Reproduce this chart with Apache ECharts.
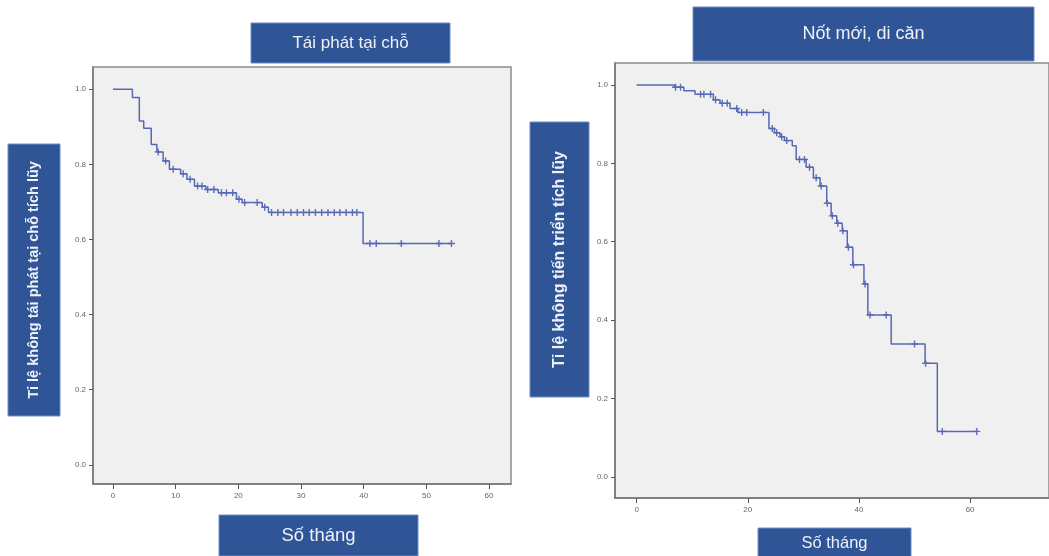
<!DOCTYPE html>
<html>
<head>
<meta charset="utf-8">
<script src="https://cdn.jsdelivr.net/npm/echarts@6/dist/echarts.min.js"></script>
<style>
html,body{margin:0;padding:0;background:#fff;}
#c{width:1049px;height:556px;}
</style>
</head>
<body>
<div id="c"></div>
<script>
// ---------- DATA ----------
const leftTitle = 'Tái phát tại chỗ';
const rightTitle = 'Nốt mới, di căn';
const leftYLabel = 'Tỉ lệ không tái phát tại chỗ tích lũy';
const rightYLabel = 'Tỉ lệ không tiến triển tích lũy';
const xTitle = 'Số tháng';

const leftXTicks = [0, 10, 20, 30, 40, 50, 60];
const rightXTicks = [0, 20, 40, 60];
const yTicks = [0, 0.2, 0.4, 0.6, 0.8, 1.0];

// Kaplan-Meier steps: [month, cumulative proportion after the event]
const leftSteps = [
  [0, 1.0], [3.1, 0.978], [4.2, 0.915], [4.9, 0.896], [6.1, 0.853], [7.0, 0.833],
  [8.0, 0.809], [9.0, 0.787], [10.8, 0.775], [11.8, 0.760], [13.0, 0.742],
  [14.8, 0.733], [16.8, 0.724], [19.7, 0.707], [20.6, 0.698], [23.8, 0.686],
  [24.8, 0.672], [39.9, 0.589], [54.0, 0.589]
];
const leftCensored = [
  [7.2, 0.833], [8.4, 0.809], [9.6, 0.787], [11.2, 0.775], [12.3, 0.760],
  [13.5, 0.742], [14.2, 0.742], [15.1, 0.733], [16.1, 0.733], [17.3, 0.724],
  [18.1, 0.724], [19.1, 0.724], [20.1, 0.707], [21.0, 0.698], [23.0, 0.698],
  [24.2, 0.686], [25.3, 0.672], [26.3, 0.672], [27.2, 0.672], [28.4, 0.672],
  [29.4, 0.672], [30.4, 0.672], [31.3, 0.672], [32.3, 0.672], [33.3, 0.672],
  [34.3, 0.672], [35.3, 0.672], [36.2, 0.672], [37.2, 0.672], [38.2, 0.672],
  [38.9, 0.672], [41.0, 0.589], [42.0, 0.589], [46.0, 0.589], [52.0, 0.589],
  [54.0, 0.589]
];

const rightSteps = [
  [0, 1.0], [6.8, 0.994], [8.5, 0.985], [10.5, 0.976], [13.8, 0.962], [15.0, 0.953],
  [16.8, 0.940], [18.2, 0.930], [23.8, 0.889], [24.8, 0.878], [25.8, 0.868],
  [26.6, 0.858], [28.0, 0.845], [28.7, 0.810], [30.5, 0.790], [31.8, 0.763],
  [33.0, 0.742], [34.2, 0.698], [35.0, 0.666], [36.0, 0.647], [37.0, 0.628],
  [37.9, 0.586], [38.9, 0.541], [40.9, 0.492], [41.6, 0.413], [45.8, 0.339],
  [51.9, 0.290], [54.1, 0.116], [61.2, 0.116]
];
const rightCensored = [
  [7.0, 0.994], [7.9, 0.994], [11.5, 0.976], [12.1, 0.976], [13.3, 0.976],
  [14.2, 0.962], [15.4, 0.953], [16.3, 0.953], [18.0, 0.940], [18.9, 0.930],
  [19.8, 0.930], [22.8, 0.930], [24.4, 0.889], [25.2, 0.878], [26.1, 0.868],
  [27.0, 0.858], [29.3, 0.810], [30.2, 0.810], [31.1, 0.790], [32.3, 0.763],
  [33.2, 0.742], [34.3, 0.698], [35.2, 0.666], [36.2, 0.647], [37.1, 0.628],
  [38.1, 0.586], [39.0, 0.541], [41.1, 0.492], [42.0, 0.413], [44.9, 0.413],
  [50.0, 0.339], [52.0, 0.290], [55.0, 0.116], [61.2, 0.116]
];

// ---------- STYLE ----------
const boxBlue = '#2f5597';
const lineBlue = '#5668b8';
const markBlue = '#3a4ea4';
const font = '"Liberation Sans", Arial, sans-serif';
const plus = 'path://M2,0H3V2H5V3H3V5H2V3H0V2H2Z';

function xAxis(gridIndex, min, max, ticks) {
  return {
    type: 'value', gridIndex, min, max,
    splitLine: { show: false },
    axisLine: { show: true, onZero: false, lineStyle: { color: '#777', width: 1.5 } },
    axisTick: { show: true, customValues: ticks, length: 5, lineStyle: { color: '#555' } },
    axisLabel: { customValues: ticks, color: '#666', fontSize: 8, fontFamily: font, margin: 8 }
  };
}
function yAxis(gridIndex, min, max) {
  return {
    type: 'value', gridIndex, min, max,
    splitLine: { show: false },
    axisLine: { show: true, onZero: false, lineStyle: { color: '#777', width: 1.5 } },
    axisTick: { show: true, customValues: yTicks, length: 4, lineStyle: { color: '#555' } },
    axisLabel: { customValues: yTicks, color: '#666', fontSize: 8, fontFamily: font, margin: 7,
      formatter: v => v.toFixed(1) }
  };
}

function box(x, y, w, h, text, fontSpec, vertical) {
  return {
    type: 'group',
    children: [
      { type: 'rect', shape: { x, y, width: w, height: h },
        style: { fill: boxBlue, stroke: '#6f8cc4', lineWidth: 1 } },
      { type: 'text', x: x + w / 2, y: y + h / 2, rotation: vertical ? Math.PI / 2 : 0,
        style: { text, fill: '#eef1f8', font: fontSpec + ' ' + font,
          textAlign: 'center', textVerticalAlign: 'middle' } }
    ]
  };
}

const chart = echarts.init(document.getElementById('c'));
chart.setOption({
  animation: false,
  backgroundColor: '#ffffff',
  grid: [
    { left: 93, top: 67, width: 418, height: 417, show: true, backgroundColor: '#f0f0f0',
      borderColor: '#8a8a8a', borderWidth: 1.5, containLabel: false },
    { left: 615, top: 63, width: 440, height: 435, show: true, backgroundColor: '#f0f0f0',
      borderColor: '#8a8a8a', borderWidth: 1.5, containLabel: false }
  ],
  xAxis: [
    xAxis(0, -3.19, 63.5, leftXTicks),
    xAxis(1, -3.9, 74.2, rightXTicks)
  ],
  yAxis: [
    yAxis(0, -0.051, 1.059),
    yAxis(1, -0.054, 1.056)
  ],
  series: [
    { type: 'line', xAxisIndex: 0, yAxisIndex: 0, step: 'end', data: leftSteps,
      showSymbol: false, lineStyle: { color: lineBlue, width: 1.5 } },
    { type: 'scatter', xAxisIndex: 0, yAxisIndex: 0, data: leftCensored,
      symbol: plus, symbolSize: 7, itemStyle: { color: markBlue } },
    { type: 'line', xAxisIndex: 1, yAxisIndex: 1, step: 'end', data: rightSteps,
      showSymbol: false, lineStyle: { color: lineBlue, width: 1.5 } },
    { type: 'scatter', xAxisIndex: 1, yAxisIndex: 1, data: rightCensored,
      symbol: plus, symbolSize: 7, itemStyle: { color: markBlue } }
  ],
  graphic: [
    box(251, 23, 199, 40, leftTitle, '17px', false),
    box(693, 7, 341, 54, rightTitle, '18px', false),
    box(219, 515, 199, 41, xTitle, '18.5px', false),
    box(758, 528, 153, 30, xTitle, '16.5px', false),
    box(8, 144, 52, 272, leftYLabel, 'bold 14.5px', true),
    box(530, 122, 59, 275, rightYLabel, 'bold 16px', true)
  ]
});
</script>
</body>
</html>
